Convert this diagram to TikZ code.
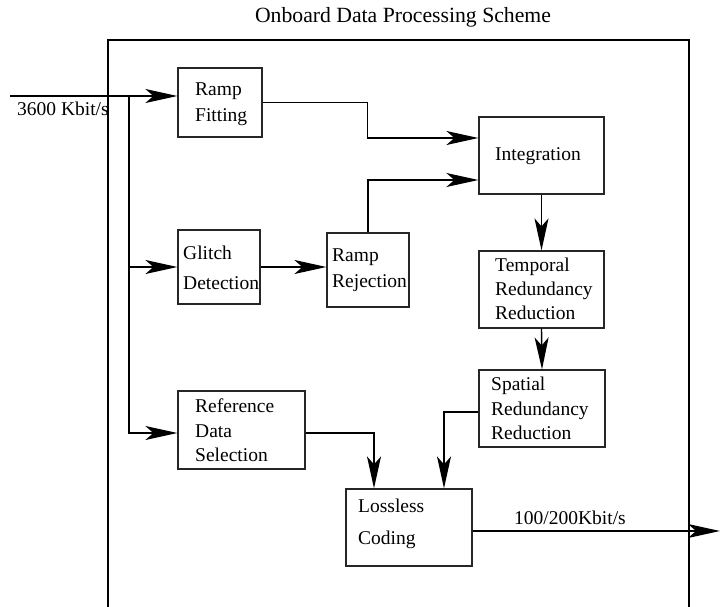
\documentclass[tikz,border=0pt]{standalone}
\usepackage{fontspec}
\setmainfont{Liberation Serif}
\usetikzlibrary{arrows.meta,calc}
\begin{document}
\begin{tikzpicture}[x=1pt,y=-1pt,
  box/.style={draw=black!85,line width=1.2pt,rectangle,inner sep=0pt},
  arr/.style={line width=1.4pt,-{Stealth[length=32pt,width=14pt,inset=8pt]}},
  lbl/.style={inner sep=0pt,anchor=west,align=left},
  fs/.style={font=\fontsize{19.5}{#1}\selectfont}]
\useasboundingbox (0,0) rectangle (720,607);
% frame
\draw[line width=1.3pt] (108,607) -- (108,40) -- (689,40) -- (689,607);
\node[inner sep=0pt,font=\fontsize{21.7}{24}\selectfont] (title) at (403,17) {Onboard Data Processing Scheme};
% boxes
\node[box,minimum width=84pt,minimum height=69pt] (rf) at (220,102.5) {};
\node[box,minimum width=125pt,minimum height=77pt] (integ) at (541.5,155.5) {};
\node[box,minimum width=125pt,minimum height=77pt] (temp) at (541.5,289.5) {};
\node[box,minimum width=82pt,minimum height=74pt] (glitch) at (219,267) {};
\node[box,minimum width=82pt,minimum height=74pt] (rrej) at (368,270) {};
\node[box,minimum width=126pt,minimum height=77pt] (spat) at (542,408.5) {};
\node[box,minimum width=127pt,minimum height=78pt] (ref) at (241.5,430) {};
\node[box,minimum width=126pt,minimum height=77pt] (loss) at (409,527.5) {};
% texts
\node[lbl,fs=26] (trf) at (195,104) {Ramp\\Fitting};
\node[lbl,fs=24] (tint) at (495,156) {Integration};
\node[lbl,fs=24] (ttemp) at (495,289) {Temporal\\Redundancy\\Reduction};
\node[lbl,fs=30] (tgl) at (183,268) {Glitch\\Detection};
\node[lbl,fs=26] (trr) at (332,270) {Ramp\\Rejection};
\node[lbl,fs=24.5] (tsp) at (491,408.5) {Spatial\\Redundancy\\Reduction};
\node[lbl,fs=24.5] (tref) at (195,430.5) {Reference\\Data\\Selection};
\node[lbl,fs=32] (tloss) at (358,524) {Lossless\\Coding};
\node[lbl,fs=24] (tin) at (17,109) {3600 Kbit/s};
\node[lbl,fs=24] (tout) at (514,518) {100/200Kbit/s};
% connectors
\coordinate (in) at (10,96);
\coordinate (br) at (129,96);
\coordinate (out) at (720,531);
\draw[arr] (in) -- (in -| rf.west);
\draw[arr] (br) |- (glitch.west);
\draw[arr] (br) |- ($(ref.west)+(0,3)$);
\draw[arr] (rf.east) -- ++(105,0) |- ($(integ.west)+(0,-17.5)$);
\draw[arr] (rrej.north) |- ($(integ.west)+(0,24.5)$);
\draw[arr] (glitch.east) -- (glitch.east -| rrej.west);
\draw[arr] (integ.south) -- (temp.north);
\draw[arr] (temp.south) -- (spat.north);
\draw[arr] ($(spat.west)+(0,3.5)$) -| ($(loss.north)+(35,0)$);
\draw[arr] ($(ref.east)+(0,3)$) -| ($(loss.north)+(-35,0)$);
\draw[arr] ($(loss.east)+(0,3.5)$) -- (out);
\end{tikzpicture}
\end{document}
